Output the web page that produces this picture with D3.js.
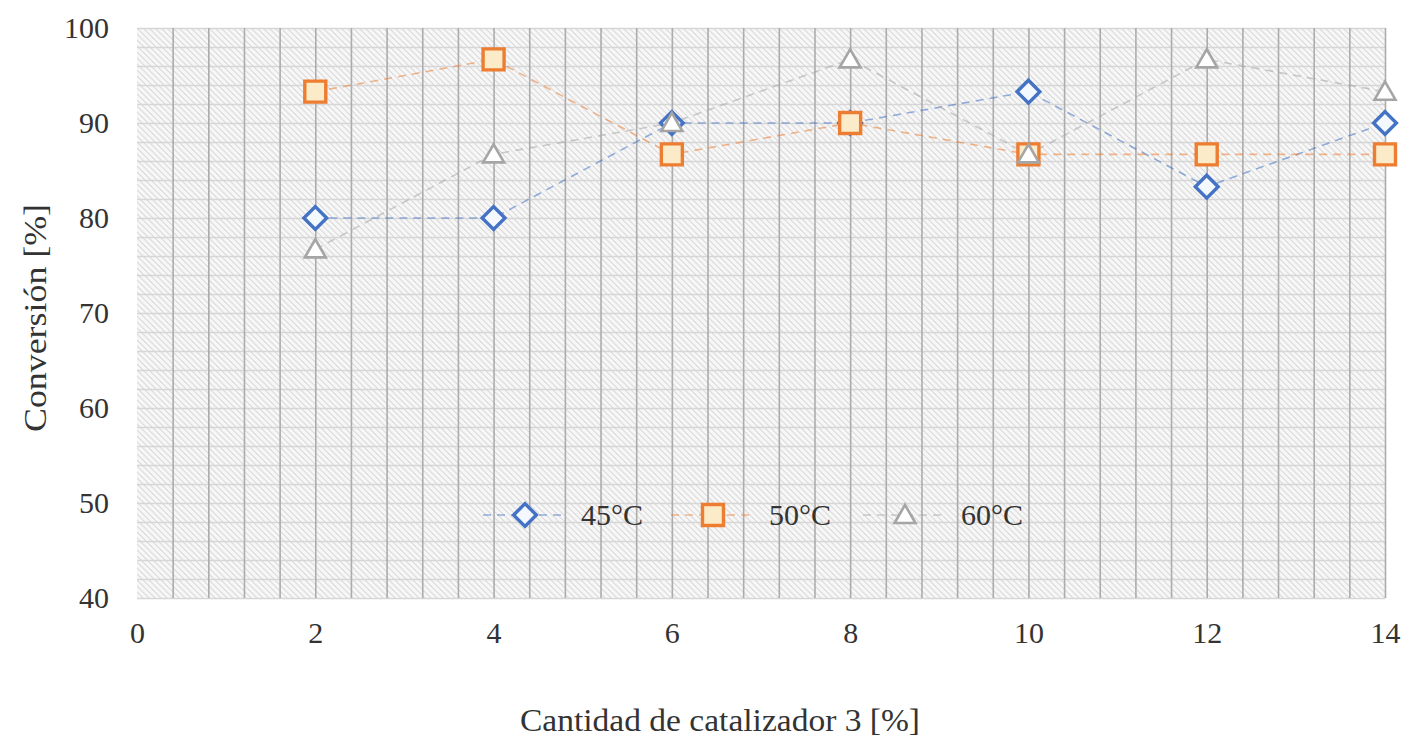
<!DOCTYPE html>
<html>
<head>
<meta charset="utf-8">
<script src="https://cdn.jsdelivr.net/npm/d3@7"></script>
<style>
  body { margin: 0; background: #fff; }
  text { font-family: "Liberation Serif", "Times New Roman", serif; fill: #333; }
</style>
</head>
<body>
<div id="chart"></div>
<script>
// Conversión vs cantidad de catalizador 3

// data
var catalyst = [2, 4, 6, 8, 10, 12, 14];
var conv45 = [80, 80, 90, 90, 93.3, 83.3, 90];
var conv50 = [93.3, 96.7, 86.7, 90, 86.7, 86.7, 86.7];
var conv60 = [76.7, 86.7, 90, 96.7, 86.7, 96.7, 93.3];
var seriesNames = ["45°C", "50°C", "60°C"];
var xTicks = [0, 2, 4, 6, 8, 10, 12, 14];
var yTicks = [40, 50, 60, 70, 80, 90, 100];

var svgWidth = 1411;
var svgHeight = 745;

var chartMargin = { top: 28, bottom: 147, left: 137, right: 26 };
var chartWidth = svgWidth - chartMargin.left - chartMargin.right;
var chartHeight = svgHeight - chartMargin.top - chartMargin.bottom;

var colors = ["#4472C4", "#ED7D31", "#A5A5A5"];
var fills = ["#f4f8ff", "#fcebc8", "#ffffff"];
var shapes = ["diamond", "square", "triangle"];
var series = [conv45, conv50, conv60].map(function(vals, i) {
  return { name: seriesNames[i], color: colors[i], fill: fills[i], shape: shapes[i],
           points: catalyst.map(function(c, j) { return { x: c, y: vals[j] }; }) };
});

var svg = d3.select("#chart").append("svg")
  .attr("width", svgWidth)
  .attr("height", svgHeight);

// hatch pattern for plot background
var defs = svg.append("defs");
var pat = defs.append("pattern")
  .attr("id", "hatch")
  .attr("patternUnits", "userSpaceOnUse")
  .attr("width", 6)
  .attr("height", 6);
pat.append("rect").attr("width", 6).attr("height", 6).attr("fill", "#f7f7f7");
pat.append("path")
  .attr("d", "M-1,-1 L7,7 M-1,5 L1,7 M5,-1 L7,1")
  .attr("stroke", "#dadada")
  .attr("stroke-width", 1.1);

var chartGroup = svg.append("g")
  .attr("transform", `translate(${chartMargin.left}, ${chartMargin.top})`);

var xScale = d3.scaleLinear().domain([0, 14]).range([0, 1248]);
var yScale = d3.scaleLinear().domain([40, 100]).range([chartHeight, 0]);

chartGroup.append("rect")
  .attr("width", 1248)
  .attr("height", chartHeight)
  .attr("fill", "url(#hatch)");

// minor horizontal grid every 2
chartGroup.append("g")
  .attr("class", "hgrid")
  .call(d3.axisLeft(yScale).tickValues(d3.range(40, 101, 2)).tickSize(-1248).tickFormat(""))
  .call(g => g.select(".domain").remove())
  .call(g => g.selectAll("line").attr("stroke", "#d6d6d6").attr("stroke-width", 1.3));

// vertical grid every 0.4
chartGroup.append("g")
  .attr("class", "vgrid")
  .attr("transform", `translate(0, ${chartHeight})`)
  .call(d3.axisBottom(xScale).tickValues(d3.range(1, 36).map(d => d * 0.4)).tickSize(-chartHeight).tickFormat(""))
  .call(g => g.select(".domain").remove())
  .call(g => g.selectAll("line").attr("stroke", "#acacac").attr("stroke-width", 1.6));

// axes labels
chartGroup.append("g")
  .call(d3.axisLeft(yScale).tickValues(yTicks).tickSize(0).tickPadding(28))
  .call(g => g.select(".domain").remove())
  .call(g => g.selectAll("text").attr("font-size", "30px").attr("font-family", "Liberation Serif").attr("fill", "#333"));

chartGroup.append("g")
  .attr("transform", `translate(0, ${chartHeight})`)
  .call(d3.axisBottom(xScale).tickValues(xTicks).tickSize(0).tickPadding(24))
  .call(g => g.select(".domain").remove())
  .call(g => g.selectAll("text").attr("font-size", "30px").attr("font-family", "Liberation Serif").attr("fill", "#333"));

// lines
var line = d3.line().x(d => xScale(d.x)).y(d => yScale(d.y));

series.forEach(function(s) {
  chartGroup.append("path")
    .datum(s.points)
    .attr("d", line)
    .attr("fill", "none")
    .attr("stroke", s.color)
    .attr("stroke-opacity", 0.55)
    .attr("stroke-width", 1.6)
    .attr("stroke-dasharray", "8,6");
});

function marker(g, s) {
  var sym;
  if (s.shape === "square") sym = d3.symbol().type(d3.symbolSquare).size(441);
  else if (s.shape === "diamond") sym = d3.symbol().type(d3.symbolSquare).size(260);
  else sym = d3.symbol().type(d3.symbolTriangle).size(190);
  return g.append("path")
    .attr("d", sym)
    .attr("transform", s.shape === "diamond" ? "rotate(45)" : (s.shape === "triangle" ? "translate(0,2)" : null))
    .attr("fill", s.fill)
    .attr("stroke", s.color)
    .attr("stroke-width", s.shape === "triangle" ? 2.6 : 3.4);
}

series.forEach(function(s) {
  s.points.forEach(function(p) {
    var g = chartGroup.append("g")
      .attr("transform", `translate(${xScale(p.x)}, ${yScale(p.y)})`);
    marker(g, s);
  });
});

// legend
var legendX = [525, 713, 905];
series.forEach(function(s, i) {
  var lg = chartGroup.append("g")
    .attr("transform", `translate(${legendX[i] - chartMargin.left}, ${515 - chartMargin.top})`);
  lg.append("line")
    .attr("x1", -42).attr("x2", 40)
    .attr("stroke", s.color)
    .attr("stroke-opacity", 0.55)
    .attr("stroke-width", 1.6)
    .attr("stroke-dasharray", "8,6");
  marker(lg.append("g"), s);
  lg.append("text")
    .attr("x", 56)
    .attr("y", 10)
    .attr("font-size", "30px")
    .text(s.name);
});

// axis titles
svg.append("text")
  .attr("transform", `translate(720, 731)`)
  .attr("text-anchor", "middle")
  .attr("font-size", "31px")
  .attr("textLength", 400)
  .attr("lengthAdjust", "spacingAndGlyphs")
  .text("Cantidad de catalizador 3 [%]");

svg.append("text")
  .attr("transform", `translate(46, 318)rotate(-90)`)
  .attr("text-anchor", "middle")
  .attr("font-size", "31px")
  .attr("textLength", 228)
  .attr("lengthAdjust", "spacingAndGlyphs")
  .text("Conversión [%]");
</script>
</body>
</html>
